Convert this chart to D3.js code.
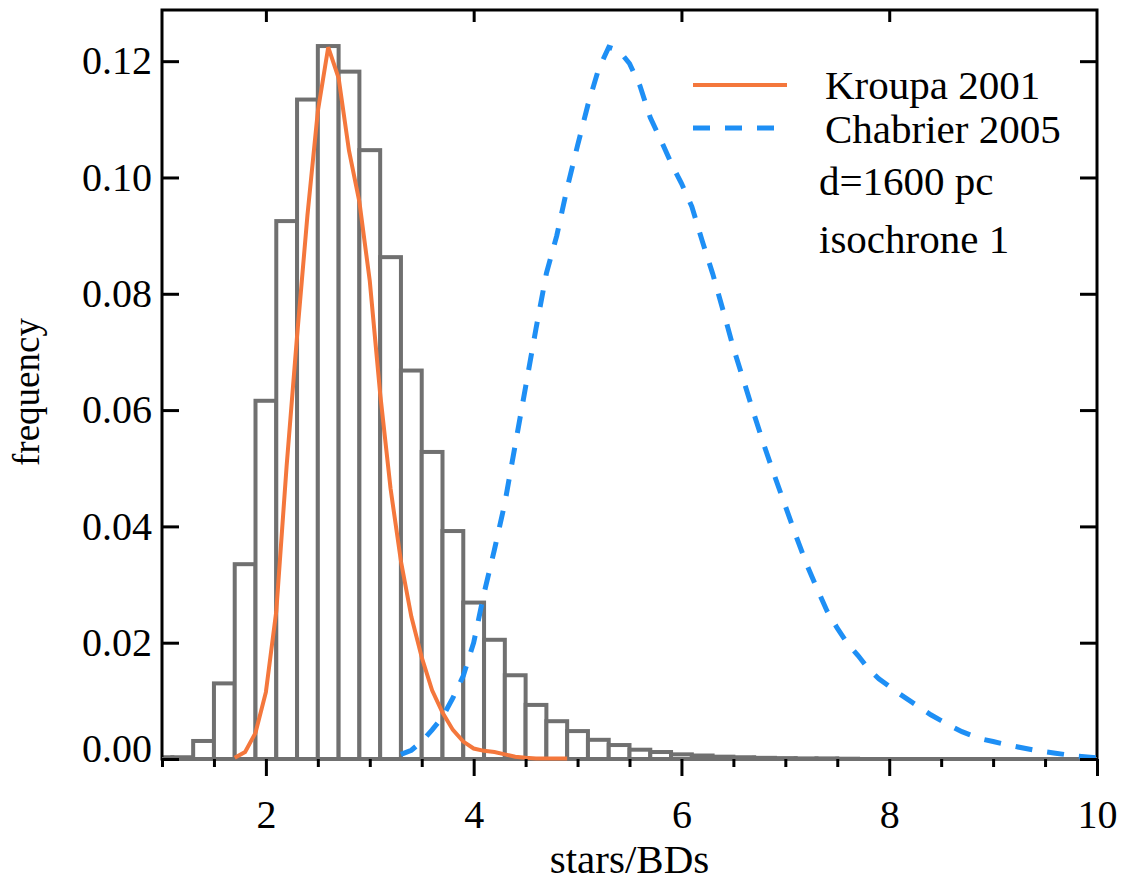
<!DOCTYPE html>
<html>
<head>
<meta charset="utf-8">
<script src="https://cdn.jsdelivr.net/npm/d3@7"></script>
<style>
body { margin:0; background:#fff; }
svg { font-family:"Liberation Serif","Times New Roman",serif; }
.frame { fill:none; stroke:#000; stroke-width:3; }
.tick line { stroke:#000; stroke-width:3; }
.tick text { font-size:40px; fill:#000; }
.bar { fill:#fff; stroke:#707070; stroke-width:4; }
.kroupa { fill:none; stroke:#f4773c; stroke-width:4; }
.chabrier { fill:none; stroke:#1e8ff5; stroke-width:5; stroke-dasharray:17,15; }
.lbl { font-size:41px; fill:#000; }
</style>
</head>
<body>
<svg></svg>
<script>
// histogram of stars/BDs, bin lower edges (width 0.2) and frequencies
var binLo=[0.9,1.1,1.3,1.5,1.7,1.9,2.1,2.3,2.5,2.7,2.9,3.1,3.3,3.5,3.7,3.9,4.1,4.3,4.5,4.7,4.9,5.1,5.3,5.5,5.7,5.9,6.1,6.3,6.5,6.7,6.9,7.1,7.3,7.5];
var binFreq=[0.0003,0.0003,0.0031,0.0130,0.0335,0.0616,0.0925,0.1134,0.1226,0.1182,0.1047,0.0863,0.0668,0.0528,0.0392,0.0269,0.0205,0.0144,0.0093,0.0065,0.0048,0.0033,0.0024,0.0016,0.0012,0.0008,0.0006,0.0004,0.0003,0.0002,0.00015,0.0001,0.0001,0.00005];
var binWidth=0.2;

// Kroupa 2001 curve
var kroupaX=[1.7,1.8,1.9,2.0,2.1,2.2,2.3,2.4,2.5,2.6,2.7,2.8,2.9,3.0,3.1,3.2,3.3,3.4,3.5,3.6,3.7,3.8,3.9,4.0,4.1,4.2,4.3,4.4,4.5,4.6,4.7,4.8,4.9];
var kroupaY=[0.0002,0.0012,0.0045,0.0115,0.0254,0.0505,0.0727,0.0935,0.1114,0.1224,0.1171,0.1046,0.0958,0.0822,0.0628,0.0465,0.0340,0.0245,0.0175,0.0118,0.0080,0.0050,0.0030,0.0018,0.0014,0.0012,0.0008,0.0004,0.0002,0.0001,0.0001,0.0001,0.0001];

// Chabrier 2005 curve
var chabX=[3.3,3.4,3.5,3.6,3.7,3.8,3.9,4.0,4.1,4.2,4.3,4.4,4.5,4.6,4.7,4.8,4.9,5.0,5.1,5.2,5.3,5.4,5.5,5.6,5.7,5.8,5.9,6.0,6.1,6.2,6.3,6.4,6.5,6.6,6.7,6.8,6.9,7.0,7.1,7.2,7.3,7.4,7.5,7.6,7.7,7.8,7.9,8.0,8.1,8.2,8.3,8.4,8.5,8.6,8.7,8.8,8.9,9.0,9.2,9.4,9.6,9.8,10.0];
var chabY=[0.0008,0.0015,0.0030,0.0050,0.0072,0.0105,0.0143,0.0200,0.0285,0.0360,0.0440,0.0540,0.0640,0.0740,0.0835,0.0900,0.0982,0.1055,0.1125,0.1185,0.1224,0.1218,0.1196,0.1158,0.1103,0.1065,0.1025,0.0990,0.0950,0.0891,0.0835,0.0772,0.0707,0.0650,0.0592,0.0537,0.0485,0.0435,0.0385,0.0337,0.0295,0.0255,0.0225,0.0198,0.0178,0.0155,0.0138,0.0125,0.0112,0.0100,0.0088,0.0076,0.0066,0.0056,0.0047,0.0040,0.0034,0.0030,0.0022,0.0015,0.0010,0.0005,0.0002];

var xMajor=[2,4,6,8,10];
var xMinor=[1,1.5,2.5,3,3.5,4.5,5,5.5,6.5,7,7.5,8.5,9,9.5];
var yTicks=[0,0.02,0.04,0.06,0.08,0.10,0.12];

var legendNames=["Kroupa 2001","Chabrier 2005"];
var notes=["d=1600 pc","isochrone 1"];

var width=1134, height=879;
var plotLeft=162, plotRight=1097, plotTop=10, plotBottom=759;

var svg=d3.select("svg").attr("width",width).attr("height",height);

var x=d3.scaleLinear().domain([1,10]).range([plotLeft,plotRight]);
var y=d3.scaleLinear().domain([0,0.1288]).range([plotBottom,plotTop]);

svg.append("clipPath").attr("id","plotclip")
	.append("rect").attr("x",plotLeft).attr("y",plotTop)
	.attr("width",plotRight-plotLeft).attr("height",plotBottom-plotTop+4);

// bars
svg.append("g").attr("clip-path","url(#plotclip)")
	.selectAll(".bar").data(binLo).enter()
	.append("rect")
	.classed("bar",true)
	.attr("x",function(d) {return x(d);})
	.attr("width",function(d) {return x(d+binWidth)-x(d);})
	.attr("y",function(d,i) {return y(binFreq[i]);})
	.attr("height",function(d,i) {return y(0)-y(binFreq[i]);});

// frame
svg.append("rect").classed("frame",true)
	.attr("x",plotLeft).attr("y",plotTop)
	.attr("width",plotRight-plotLeft).attr("height",plotBottom-plotTop);

// gray baseline of the histogram over the bottom axis
svg.append("line")
	.attr("x1",x(1)).attr("x2",x(10)).attr("y1",y(0)).attr("y2",y(0))
	.attr("stroke","#707070").attr("stroke-width",4);

// curves
var line=d3.line()
	.x(function(d) {return x(d[0]);})
	.y(function(d) {return y(d[1]);});

svg.append("path").classed("kroupa",true)
	.attr("d",line(d3.zip(kroupaX,kroupaY)));
svg.append("path").classed("chabrier",true)
	.attr("d",line(d3.zip(chabX,chabY)));

// axes
function clean(g) {
	g.select(".domain").remove();
	g.attr("font-family",null).attr("font-size",null);
}

var yAxis=svg.append("g").attr("transform","translate("+plotLeft+",0)")
	.call(d3.axisLeft(y).tickValues(yTicks).tickFormat(d3.format(".2f"))
		.tickSizeInner(-17).tickSizeOuter(0).tickPadding(10))
	.call(clean);
// the zero label sits a little above the axis
yAxis.selectAll(".tick text").filter(function(d) {return d==0;}).attr("y",-10);

svg.append("g").attr("transform","translate("+plotRight+",0)")
	.call(d3.axisRight(y).tickValues(yTicks).tickFormat("")
		.tickSizeInner(-17).tickSizeOuter(0))
	.call(clean);

svg.append("g").attr("transform","translate(0,"+plotTop+")")
	.call(d3.axisTop(x).tickValues(xMajor.slice(0,4)).tickFormat("")
		.tickSizeInner(-12).tickSizeOuter(0))
	.call(clean);

svg.append("g").attr("transform","translate(0,"+plotBottom+")")
	.call(d3.axisBottom(x).tickValues(xMinor).tickFormat("")
		.tickSizeInner(8).tickSizeOuter(0))
	.call(clean);

svg.append("g").attr("transform","translate(0,"+plotBottom+")")
	.call(d3.axisBottom(x).tickValues(xMajor).tickFormat(d3.format("d"))
		.tickSizeInner(17).tickSizeOuter(0).tickPadding(24))
	.call(clean);

// axis titles
svg.append("text").classed("lbl",true)
	.attr("x",(plotLeft+plotRight)/2).attr("y",873)
	.attr("text-anchor","middle")
	.text("stars/BDs");

svg.append("text").classed("lbl",true)
	.attr("transform","translate(39,392) rotate(-90)")
	.attr("text-anchor","middle")
	.style("font-size","37px")
	.text("frequency");

// legend
var legend=svg.append("g");
legend.append("line").classed("kroupa",true)
	.attr("x1",693).attr("x2",787).attr("y1",85).attr("y2",85);
legend.append("line").classed("chabrier",true)
	.attr("x1",693).attr("x2",777).attr("y1",128).attr("y2",128);
legend.selectAll(".legtext").data(legendNames).enter()
	.append("text").classed("lbl",true)
	.attr("x",825)
	.attr("y",function(d,i) {return 99+i*44;})
	.text(function(d) {return d;});
legend.selectAll(".note").data(notes).enter()
	.append("text").classed("lbl",true)
	.attr("x",819)
	.attr("y",function(d,i) {return 195+i*58;})
	.text(function(d) {return d;});
</script>
</body>
</html>
